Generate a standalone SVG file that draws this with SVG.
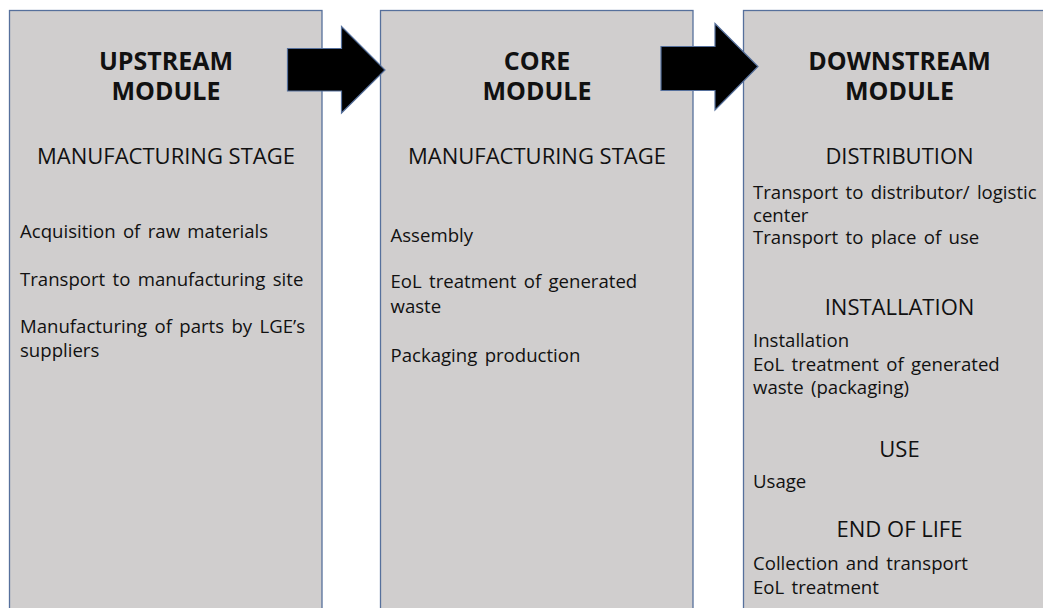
<svg xmlns="http://www.w3.org/2000/svg" width="1043" height="608" viewBox="0 0 1043 608">
<style>
.panel{fill:#D0CECE;stroke:#56709C;stroke-width:1.3}
.arrow{fill:#000000;stroke:#56709C;stroke-width:1.2;stroke-linejoin:miter}
text{font-family:"Open Sans","Noto Sans","DejaVu Sans",sans-serif;fill:#111111}
.h{font-size:25px;font-weight:bold;text-anchor:middle}
.s{font-size:22px;text-anchor:middle}
.b{font-size:18.6px;word-spacing:2.5px}
</style>
<rect width="1043" height="608" fill="#FFFFFF"/>
<g id="upstream">
<rect class="panel" x="9.5" y="10.5" width="312.5" height="620"/>
<text class="h" x="166" y="70">UPSTREAM</text>
<text class="h" x="166" y="100">MODULE</text>
<text class="s" x="166" y="164">MANUFACTURING STAGE</text>
<text class="b" x="20" y="238">Acquisition of raw materials</text>
<text class="b" x="20" y="286">Transport to manufacturing site</text>
<text class="b" x="20" y="333">Manufacturing of parts by LGE’s</text>
<text class="b" x="20" y="357">suppliers</text>
</g>
<g id="core">
<rect class="panel" x="380.5" y="10.5" width="312.5" height="620"/>
<text class="h" x="537" y="70">CORE</text>
<text class="h" x="537" y="100">MODULE</text>
<text class="s" x="537" y="163.5">MANUFACTURING STAGE</text>
<text class="b" x="390.5" y="242">Assembly</text>
<text class="b" x="390.5" y="288">EoL treatment of generated</text>
<text class="b" x="390.5" y="312.5">waste</text>
<text class="b" x="390.5" y="361.5">Packaging production</text>
</g>
<g id="downstream">
<rect class="panel" x="743.5" y="10.5" width="312.5" height="620"/>
<text class="h" x="899.5" y="70">DOWNSTREAM</text>
<text class="h" x="899.5" y="100">MODULE</text>
<text class="s" x="899.5" y="163.5">DISTRIBUTION</text>
<text class="b" x="753" y="199">Transport to distributor/ logistic</text>
<text class="b" x="753" y="221.5">center</text>
<text class="b" x="753" y="244">Transport to place of use</text>
<text class="s" x="899.5" y="315">INSTALLATION</text>
<text class="b" x="753" y="347">Installation</text>
<text class="b" x="753" y="370.5">EoL treatment of generated</text>
<text class="b" x="753" y="394">waste (packaging)</text>
<text class="s" x="899.5" y="457">USE</text>
<text class="b" x="753" y="488">Usage</text>
<text class="s" x="899.5" y="537">END OF LIFE</text>
<text class="b" x="753" y="569.5">Collection and transport</text>
<text class="b" x="753" y="593.5">EoL treatment</text>
</g>
<g id="connectors">
<polygon class="arrow" points="287.5,48.5 341.5,48.5 341.5,26.5 385,70 341.5,113 341.5,91 287.5,91"/>
<polygon class="arrow" points="661,46.5 715,46.5 715,23.5 758,66.5 715,110 715,90.5 661,90.5"/>
</g>
</svg>
